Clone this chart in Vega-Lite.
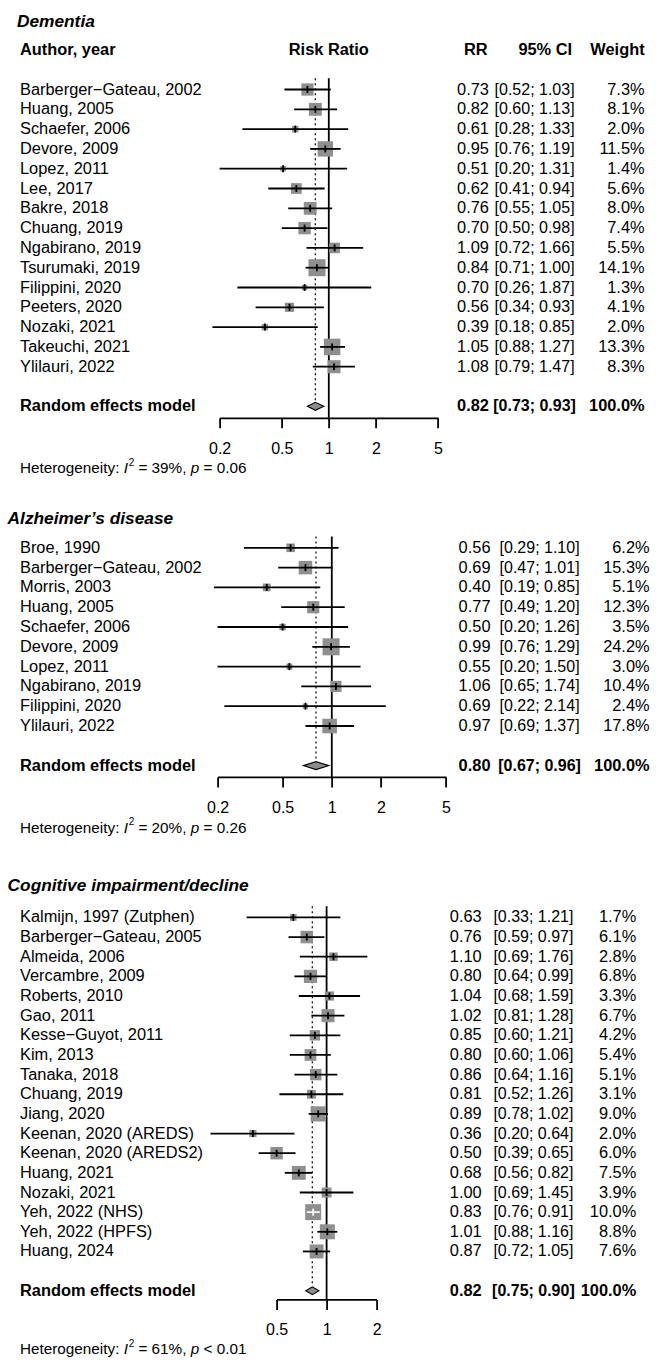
{
"$schema": "https://vega.github.io/schema/vega-lite/v6.json",
"background": "white",
"padding": {"left": 7.6, "top": 10.3, "right": 5, "bottom": 2},
"spacing": 8,
"resolve": {"scale": {"size": "independent"}},
"datasets": {
"D": [
{"row":0,"study":"Barberger−Gateau, 2002","rr":0.73,"lo":0.52,"hi":1.03,"w":0.073,"kind":"study"},
{"row":1,"study":"Huang, 2005","rr":0.82,"lo":0.60,"hi":1.13,"w":0.081,"kind":"study"},
{"row":2,"study":"Schaefer, 2006","rr":0.61,"lo":0.28,"hi":1.33,"w":0.020,"kind":"study"},
{"row":3,"study":"Devore, 2009","rr":0.95,"lo":0.76,"hi":1.19,"w":0.115,"kind":"study"},
{"row":4,"study":"Lopez, 2011","rr":0.51,"lo":0.20,"hi":1.31,"w":0.014,"kind":"study"},
{"row":5,"study":"Lee, 2017","rr":0.62,"lo":0.41,"hi":0.94,"w":0.056,"kind":"study"},
{"row":6,"study":"Bakre, 2018","rr":0.76,"lo":0.55,"hi":1.05,"w":0.080,"kind":"study"},
{"row":7,"study":"Chuang, 2019","rr":0.70,"lo":0.50,"hi":0.98,"w":0.074,"kind":"study"},
{"row":8,"study":"Ngabirano, 2019","rr":1.09,"lo":0.72,"hi":1.66,"w":0.055,"kind":"study"},
{"row":9,"study":"Tsurumaki, 2019","rr":0.84,"lo":0.71,"hi":1.00,"w":0.141,"kind":"study"},
{"row":10,"study":"Filippini, 2020","rr":0.70,"lo":0.26,"hi":1.87,"w":0.013,"kind":"study"},
{"row":11,"study":"Peeters, 2020","rr":0.56,"lo":0.34,"hi":0.93,"w":0.041,"kind":"study"},
{"row":12,"study":"Nozaki, 2021","rr":0.39,"lo":0.18,"hi":0.85,"w":0.020,"kind":"study"},
{"row":13,"study":"Takeuchi, 2021","rr":1.05,"lo":0.88,"hi":1.27,"w":0.133,"kind":"study"},
{"row":14,"study":"Ylilauri, 2022","rr":1.08,"lo":0.79,"hi":1.47,"w":0.083,"kind":"study"},
{"row":16,"study":"Random effects model","rr":0.82,"lo":0.73,"hi":0.93,"w":1.0,"kind":"summary"}
],
"A": [
{"row":0,"study":"Broe, 1990","rr":0.56,"lo":0.29,"hi":1.10,"w":0.062,"kind":"study"},
{"row":1,"study":"Barberger−Gateau, 2002","rr":0.69,"lo":0.47,"hi":1.01,"w":0.153,"kind":"study"},
{"row":2,"study":"Morris, 2003","rr":0.40,"lo":0.19,"hi":0.85,"w":0.051,"kind":"study"},
{"row":3,"study":"Huang, 2005","rr":0.77,"lo":0.49,"hi":1.20,"w":0.123,"kind":"study"},
{"row":4,"study":"Schaefer, 2006","rr":0.50,"lo":0.20,"hi":1.26,"w":0.035,"kind":"study"},
{"row":5,"study":"Devore, 2009","rr":0.99,"lo":0.76,"hi":1.29,"w":0.242,"kind":"study"},
{"row":6,"study":"Lopez, 2011","rr":0.55,"lo":0.20,"hi":1.50,"w":0.030,"kind":"study"},
{"row":7,"study":"Ngabirano, 2019","rr":1.06,"lo":0.65,"hi":1.74,"w":0.104,"kind":"study"},
{"row":8,"study":"Filippini, 2020","rr":0.69,"lo":0.22,"hi":2.14,"w":0.024,"kind":"study"},
{"row":9,"study":"Ylilauri, 2022","rr":0.97,"lo":0.69,"hi":1.37,"w":0.178,"kind":"study"},
{"row":11,"study":"Random effects model","rr":0.80,"lo":0.67,"hi":0.96,"w":1.0,"kind":"summary"}
],
"C": [
{"row":0,"study":"Kalmijn, 1997 (Zutphen)","rr":0.63,"lo":0.33,"hi":1.21,"w":0.017,"kind":"study"},
{"row":1,"study":"Barberger−Gateau, 2005","rr":0.76,"lo":0.59,"hi":0.97,"w":0.061,"kind":"study"},
{"row":2,"study":"Almeida, 2006","rr":1.10,"lo":0.69,"hi":1.76,"w":0.028,"kind":"study"},
{"row":3,"study":"Vercambre, 2009","rr":0.80,"lo":0.64,"hi":0.99,"w":0.068,"kind":"study"},
{"row":4,"study":"Roberts, 2010","rr":1.04,"lo":0.68,"hi":1.59,"w":0.033,"kind":"study"},
{"row":5,"study":"Gao, 2011","rr":1.02,"lo":0.81,"hi":1.28,"w":0.067,"kind":"study"},
{"row":6,"study":"Kesse−Guyot, 2011","rr":0.85,"lo":0.60,"hi":1.21,"w":0.042,"kind":"study"},
{"row":7,"study":"Kim, 2013","rr":0.80,"lo":0.60,"hi":1.06,"w":0.054,"kind":"study"},
{"row":8,"study":"Tanaka, 2018","rr":0.86,"lo":0.64,"hi":1.16,"w":0.051,"kind":"study"},
{"row":9,"study":"Chuang, 2019","rr":0.81,"lo":0.52,"hi":1.26,"w":0.031,"kind":"study"},
{"row":10,"study":"Jiang, 2020","rr":0.89,"lo":0.78,"hi":1.02,"w":0.090,"kind":"study"},
{"row":11,"study":"Keenan, 2020 (AREDS)","rr":0.36,"lo":0.20,"hi":0.64,"w":0.020,"kind":"study"},
{"row":12,"study":"Keenan, 2020 (AREDS2)","rr":0.50,"lo":0.39,"hi":0.65,"w":0.060,"kind":"study"},
{"row":13,"study":"Huang, 2021","rr":0.68,"lo":0.56,"hi":0.82,"w":0.075,"kind":"study"},
{"row":14,"study":"Nozaki, 2021","rr":1.00,"lo":0.69,"hi":1.45,"w":0.039,"kind":"study"},
{"row":15,"study":"Yeh, 2022 (NHS)","rr":0.83,"lo":0.76,"hi":0.91,"w":0.100,"kind":"study"},
{"row":16,"study":"Yeh, 2022 (HPFS)","rr":1.01,"lo":0.88,"hi":1.16,"w":0.088,"kind":"study"},
{"row":17,"study":"Huang, 2024","rr":0.87,"lo":0.72,"hi":1.05,"w":0.076,"kind":"study"},
{"row":19,"study":"Random effects model","rr":0.82,"lo":0.75,"hi":0.90,"w":1.0,"kind":"summary"}
]
},
"vconcat": [
{
"spacing": 0, "bounds": "flush",
"hconcat": [
{
"width": 211.7, "height": 479.2,
"layer": [
{"data": {"name": "D"}, "transform": [{"filter": "datum.kind == 'study'"}],
 "mark": {"type": "text", "align": "left", "dx": 12.4},
 "encoding": {"x": {"datum": 0, "type": "quantitative", "scale": {"domain": [0, 1]}, "axis": null},
  "y": {"field": "row", "type": "quantitative", "scale": {"domain": [-4, 20.2], "reverse": true, "nice": false}, "axis": null},
  "text": {"field": "study", "type": "nominal"}}},
{"data": {"name": "D"}, "transform": [{"filter": "datum.kind == 'summary'"}],
 "mark": {"type": "text", "align": "left", "dx": 12.4, "fontWeight": "bold"},
 "encoding": {"x": {"datum": 0, "type": "quantitative", "scale": {"domain": [0, 1]}, "axis": null},
  "y": {"field": "row", "type": "quantitative", "scale": {"domain": [-4, 20.2], "reverse": true, "nice": false}, "axis": null},
  "text": {"field": "study", "type": "nominal"}}},
{"data": {"values": [{}]},
 "mark": {"type": "text", "align": "left", "dx": 9.4, "fontWeight": "bold", "fontStyle": "italic", "fontSize": 17.3, "text": "Dementia"},
 "encoding": {"x": {"datum": 0, "type": "quantitative", "scale": {"domain": [0, 1]}, "axis": null},
  "y": {"datum": -3.41, "type": "quantitative", "scale": {"domain": [-4, 20.2], "reverse": true, "nice": false}, "axis": null}}},
{"data": {"values": [{}]},
 "mark": {"type": "text", "align": "left", "dx": 12.4, "fontWeight": "bold", "text": "Author, year"},
 "encoding": {"x": {"datum": 0, "type": "quantitative", "scale": {"domain": [0, 1]}, "axis": null},
  "y": {"datum": -2, "type": "quantitative", "scale": {"domain": [-4, 20.2], "reverse": true, "nice": false}, "axis": null}}},
{"data": {"values": [{}]}, "mark": {"type": "text", "align": "left", "dx": 12.4, "fontSize": 15.3, "text": "Heterogeneity:"},
 "encoding": {"x": {"datum": 0, "type": "quantitative", "scale": {"domain": [0, 1]}, "axis": null},
  "y": {"datum": 19.12, "type": "quantitative", "scale": {"domain": [-4, 20.2], "reverse": true, "nice": false}, "axis": null}}},
{"data": {"values": [{}]}, "mark": {"type": "text", "align": "left", "dx": 116.15, "fontSize": 15.3, "fontStyle": "italic", "text": "I"},
 "encoding": {"x": {"datum": 0, "type": "quantitative", "scale": {"domain": [0, 1]}, "axis": null},
  "y": {"datum": 19.12, "type": "quantitative", "scale": {"domain": [-4, 20.2], "reverse": true, "nice": false}, "axis": null}}},
{"data": {"values": [{}]}, "mark": {"type": "text", "align": "left", "dx": 121.2, "dy": -5.5, "fontSize": 10, "text": "2"},
 "encoding": {"x": {"datum": 0, "type": "quantitative", "scale": {"domain": [0, 1]}, "axis": null},
  "y": {"datum": 19.12, "type": "quantitative", "scale": {"domain": [-4, 20.2], "reverse": true, "nice": false}, "axis": null}}},
{"data": {"values": [{}]}, "mark": {"type": "text", "align": "left", "dx": 130.85, "fontSize": 15.3, "text": "= 39%,"},
 "encoding": {"x": {"datum": 0, "type": "quantitative", "scale": {"domain": [0, 1]}, "axis": null},
  "y": {"datum": 19.12, "type": "quantitative", "scale": {"domain": [-4, 20.2], "reverse": true, "nice": false}, "axis": null}}},
{"data": {"values": [{}]}, "mark": {"type": "text", "align": "left", "dx": 183.2, "fontSize": 15.3, "fontStyle": "italic", "text": "p"},
 "encoding": {"x": {"datum": 0, "type": "quantitative", "scale": {"domain": [0, 1]}, "axis": null},
  "y": {"datum": 19.12, "type": "quantitative", "scale": {"domain": [-4, 20.2], "reverse": true, "nice": false}, "axis": null}}},
{"data": {"values": [{}]}, "mark": {"type": "text", "align": "left", "dx": 195.95, "fontSize": 15.3, "text": "= 0.06"},
 "encoding": {"x": {"datum": 0, "type": "quantitative", "scale": {"domain": [0, 1]}, "axis": null},
  "y": {"datum": 19.12, "type": "quantitative", "scale": {"domain": [-4, 20.2], "reverse": true, "nice": false}, "axis": null}}}
]
},
{
"width": 218.4, "height": 407.5,
"layer": [
{"data": {"values": [{}]}, "mark": {"type": "rule", "color": "#000", "strokeWidth": 1.8},
 "encoding": {"x": {"datum": 1, "type": "quantitative", "scale": {"type": "log", "domain": [0.2, 5]}, "axis": {"values": [0.2, 0.5, 1, 2, 5], "format": "~g", "title": null, "labelFontSize": 16}},
  "y": {"datum": -0.57, "type": "quantitative", "scale": {"domain": [-4, 16.58], "reverse": true, "nice": false}, "axis": null},
  "y2": {"datum": 16.58}}},
{"data": {"name": "D"}, "transform": [{"filter": "datum.kind == 'summary'"}],
 "mark": {"type": "rule", "color": "#000", "strokeWidth": 1.2, "strokeDash": [2, 3]},
 "encoding": {"x": {"field": "rr", "type": "quantitative", "scale": {"type": "log", "domain": [0.2, 5]}, "axis": {"values": [0.2, 0.5, 1, 2, 5], "format": "~g", "title": null, "labelFontSize": 16}},
  "y": {"datum": -0.57, "type": "quantitative", "scale": {"domain": [-4, 16.58], "reverse": true, "nice": false}, "axis": null},
  "y2": {"datum": 15.77}}},
{"data": {"name": "D"}, "transform": [{"filter": "datum.kind == 'study'"}],
 "mark": {"type": "square", "filled": true, "color": "#8f8f8f", "opacity": 1},
 "encoding": {"x": {"field": "rr", "type": "quantitative", "scale": {"type": "log", "domain": [0.2, 5]}, "axis": {"values": [0.2, 0.5, 1, 2, 5], "format": "~g", "title": null, "labelFontSize": 16}},
  "y": {"field": "row", "type": "quantitative", "scale": {"domain": [-4, 16.58], "reverse": true, "nice": false}, "axis": null},
  "size": {"field": "w", "type": "quantitative", "scale": {"domain": [0, 0.141], "range": [0, 289]}, "legend": null}}},
{"data": {"name": "D"}, "transform": [{"filter": "datum.kind == 'study'"}],
 "mark": {"type": "rule", "strokeWidth": 1.8},
 "encoding": {"x": {"field": "lo", "type": "quantitative", "scale": {"type": "log", "domain": [0.2, 5]}, "axis": {"values": [0.2, 0.5, 1, 2, 5], "format": "~g", "title": null, "labelFontSize": 16}},
  "x2": {"field": "hi"},
  "y": {"field": "row", "type": "quantitative", "scale": {"domain": [-4, 16.58], "reverse": true, "nice": false}, "axis": null},
  "color": {"condition": {"test": "datum.hi / datum.lo < 1.25", "value": "#ffffff"}, "value": "#000000"}}},
{"data": {"name": "D"}, "transform": [{"filter": "datum.kind == 'study'"}],
 "mark": {"type": "tick", "orient": "vertical", "size": 7, "thickness": 1.8, "opacity": 1},
 "encoding": {"x": {"field": "rr", "type": "quantitative", "scale": {"type": "log", "domain": [0.2, 5]}, "axis": {"values": [0.2, 0.5, 1, 2, 5], "format": "~g", "title": null, "labelFontSize": 16}},
  "y": {"field": "row", "type": "quantitative", "scale": {"domain": [-4, 16.58], "reverse": true, "nice": false}, "axis": null},
  "color": {"condition": {"test": "datum.hi / datum.lo < 1.25", "value": "#ffffff"}, "value": "#000000"}}},
{"data": {"name": "D"},
 "transform": [{"filter": "datum.kind == 'summary'"}, {"fold": ["lo", "rr", "hi"], "as": ["key", "val"]},
  {"calculate": "datum.key == 'rr' ? datum.row - 0.2 : datum.row", "as": "top"},
  {"calculate": "datum.key == 'rr' ? datum.row + 0.2 : datum.row", "as": "bot"}],
 "mark": {"type": "area", "orient": "vertical", "color": "#8c8c8c", "stroke": "#000", "strokeWidth": 1.1, "opacity": 1},
 "encoding": {"x": {"field": "val", "type": "quantitative", "scale": {"type": "log", "domain": [0.2, 5]}, "axis": {"values": [0.2, 0.5, 1, 2, 5], "format": "~g", "title": null, "labelFontSize": 16}},
  "y": {"field": "top", "type": "quantitative", "scale": {"domain": [-4, 16.58], "reverse": true, "nice": false}, "axis": null},
  "y2": {"field": "bot"}}},
{"data": {"values": [{}]},
 "mark": {"type": "text", "fontWeight": "bold", "text": "Risk Ratio"},
 "encoding": {"x": {"datum": 1, "type": "quantitative", "scale": {"type": "log", "domain": [0.2, 5]}, "axis": {"values": [0.2, 0.5, 1, 2, 5], "format": "~g", "title": null, "labelFontSize": 16}},
  "y": {"datum": -2, "type": "quantitative", "scale": {"domain": [-4, 16.58], "reverse": true, "nice": false}, "axis": null}}}
]
},
{
"width": 50.3, "height": 407.5,
"layer": [
{"data": {"name": "D"}, "transform": [{"filter": "datum.kind == 'study'"}],
 "mark": {"type": "text", "align": "right"},
 "encoding": {"x": {"datum": 1, "type": "quantitative", "scale": {"domain": [0, 1]}, "axis": null},
  "y": {"field": "row", "type": "quantitative", "scale": {"domain": [-4, 16.58], "reverse": true, "nice": false}, "axis": null},
  "text": {"field": "rr", "type": "quantitative", "format": ".2f"}}},
{"data": {"name": "D"}, "transform": [{"filter": "datum.kind == 'summary'"}],
 "mark": {"type": "text", "align": "right", "fontWeight": "bold"},
 "encoding": {"x": {"datum": 1, "type": "quantitative", "scale": {"domain": [0, 1]}, "axis": null},
  "y": {"field": "row", "type": "quantitative", "scale": {"domain": [-4, 16.58], "reverse": true, "nice": false}, "axis": null},
  "text": {"field": "rr", "type": "quantitative", "format": ".2f"}}},
{"data": {"values": [{}]},
 "mark": {"type": "text", "align": "right", "fontWeight": "bold", "text": "RR", "dx": -1.3},
 "encoding": {"x": {"datum": 1, "type": "quantitative", "scale": {"domain": [0, 1]}, "axis": null},
  "y": {"datum": -2, "type": "quantitative", "scale": {"domain": [-4, 16.58], "reverse": true, "nice": false}, "axis": null}}}
]
},
{
"width": 90, "height": 407.5,
"layer": [
{"data": {"name": "D"}, "transform": [{"filter": "datum.kind == 'study'"}, {"calculate": "'[' + format(datum.lo, '.2f') + '; ' + format(datum.hi, '.2f') + ']'", "as": "ci"}],
 "mark": {"type": "text", "align": "center", "fontSize": 16},
 "encoding": {"x": {"datum": 0.5, "type": "quantitative", "scale": {"domain": [0, 1]}, "axis": null},
  "y": {"field": "row", "type": "quantitative", "scale": {"domain": [-4, 16.58], "reverse": true, "nice": false}, "axis": null},
  "text": {"field": "ci", "type": "nominal"}}},
{"data": {"name": "D"}, "transform": [{"filter": "datum.kind == 'summary'"}, {"calculate": "'[' + format(datum.lo, '.2f') + '; ' + format(datum.hi, '.2f') + ']'", "as": "ci"}],
 "mark": {"type": "text", "align": "center", "fontWeight": "bold", "fontSize": 16},
 "encoding": {"x": {"datum": 0.5, "type": "quantitative", "scale": {"domain": [0, 1]}, "axis": null},
  "y": {"field": "row", "type": "quantitative", "scale": {"domain": [-4, 16.58], "reverse": true, "nice": false}, "axis": null},
  "text": {"field": "ci", "type": "nominal"}}},
{"data": {"values": [{}]},
 "mark": {"type": "text", "align": "right", "fontWeight": "bold", "text": "95% CI", "dx": -7.5},
 "encoding": {"x": {"datum": 1, "type": "quantitative", "scale": {"domain": [0, 1]}, "axis": null},
  "y": {"datum": -2, "type": "quantitative", "scale": {"domain": [-4, 16.58], "reverse": true, "nice": false}, "axis": null}}}
]
},
{
"width": 65, "height": 407.5,
"layer": [
{"data": {"name": "D"}, "transform": [{"filter": "datum.kind == 'study'"}],
 "mark": {"type": "text", "align": "right"},
 "encoding": {"x": {"datum": 1, "type": "quantitative", "scale": {"domain": [0, 1]}, "axis": null},
  "y": {"field": "row", "type": "quantitative", "scale": {"domain": [-4, 16.58], "reverse": true, "nice": false}, "axis": null},
  "text": {"field": "w", "type": "quantitative", "format": ".1%"}}},
{"data": {"name": "D"}, "transform": [{"filter": "datum.kind == 'summary'"}],
 "mark": {"type": "text", "align": "right", "fontWeight": "bold"},
 "encoding": {"x": {"datum": 1, "type": "quantitative", "scale": {"domain": [0, 1]}, "axis": null},
  "y": {"field": "row", "type": "quantitative", "scale": {"domain": [-4, 16.58], "reverse": true, "nice": false}, "axis": null},
  "text": {"field": "w", "type": "quantitative", "format": ".1%"}}},
{"data": {"values": [{}]},
 "mark": {"type": "text", "align": "right", "fontWeight": "bold", "text": "Weight"},
 "encoding": {"x": {"datum": 1, "type": "quantitative", "scale": {"domain": [0, 1]}, "axis": null},
  "y": {"datum": -2, "type": "quantitative", "scale": {"domain": [-4, 16.58], "reverse": true, "nice": false}, "axis": null}}}
]
}
]
},
{
"spacing": 0, "bounds": "flush",
"hconcat": [
{
"width": 209.4, "height": 361.7,
"layer": [
{"data": {"name": "A"}, "transform": [{"filter": "datum.kind == 'study'"}],
 "mark": {"type": "text", "align": "left", "dx": 12.4},
 "encoding": {"x": {"datum": 0, "type": "quantitative", "scale": {"domain": [0, 1]}, "axis": null},
  "y": {"field": "row", "type": "quantitative", "scale": {"domain": [-2.5, 15.77], "reverse": true, "nice": false}, "axis": null},
  "text": {"field": "study", "type": "nominal"}}},
{"data": {"name": "A"}, "transform": [{"filter": "datum.kind == 'summary'"}],
 "mark": {"type": "text", "align": "left", "dx": 12.4, "fontWeight": "bold"},
 "encoding": {"x": {"datum": 0, "type": "quantitative", "scale": {"domain": [0, 1]}, "axis": null},
  "y": {"field": "row", "type": "quantitative", "scale": {"domain": [-2.5, 15.77], "reverse": true, "nice": false}, "axis": null},
  "text": {"field": "study", "type": "nominal"}}},
{"data": {"values": [{}]},
 "mark": {"type": "text", "align": "left", "dx": 0, "fontWeight": "bold", "fontStyle": "italic", "fontSize": 17.3, "text": "Alzheimer’s disease"},
 "encoding": {"x": {"datum": 0, "type": "quantitative", "scale": {"domain": [0, 1]}, "axis": null},
  "y": {"datum": -1.46, "type": "quantitative", "scale": {"domain": [-2.5, 15.77], "reverse": true, "nice": false}, "axis": null}}},
{"data": {"values": [{}]}, "mark": {"type": "text", "align": "left", "dx": 12.4, "fontSize": 15.3, "text": "Heterogeneity:"},
 "encoding": {"x": {"datum": 0, "type": "quantitative", "scale": {"domain": [0, 1]}, "axis": null},
  "y": {"datum": 14.13, "type": "quantitative", "scale": {"domain": [-2.5, 15.77], "reverse": true, "nice": false}, "axis": null}}},
{"data": {"values": [{}]}, "mark": {"type": "text", "align": "left", "dx": 116.15, "fontSize": 15.3, "fontStyle": "italic", "text": "I"},
 "encoding": {"x": {"datum": 0, "type": "quantitative", "scale": {"domain": [0, 1]}, "axis": null},
  "y": {"datum": 14.13, "type": "quantitative", "scale": {"domain": [-2.5, 15.77], "reverse": true, "nice": false}, "axis": null}}},
{"data": {"values": [{}]}, "mark": {"type": "text", "align": "left", "dx": 121.2, "dy": -5.5, "fontSize": 10, "text": "2"},
 "encoding": {"x": {"datum": 0, "type": "quantitative", "scale": {"domain": [0, 1]}, "axis": null},
  "y": {"datum": 14.13, "type": "quantitative", "scale": {"domain": [-2.5, 15.77], "reverse": true, "nice": false}, "axis": null}}},
{"data": {"values": [{}]}, "mark": {"type": "text", "align": "left", "dx": 130.85, "fontSize": 15.3, "text": "= 20%,"},
 "encoding": {"x": {"datum": 0, "type": "quantitative", "scale": {"domain": [0, 1]}, "axis": null},
  "y": {"datum": 14.13, "type": "quantitative", "scale": {"domain": [-2.5, 15.77], "reverse": true, "nice": false}, "axis": null}}},
{"data": {"values": [{}]}, "mark": {"type": "text", "align": "left", "dx": 183.2, "fontSize": 15.3, "fontStyle": "italic", "text": "p"},
 "encoding": {"x": {"datum": 0, "type": "quantitative", "scale": {"domain": [0, 1]}, "axis": null},
  "y": {"datum": 14.13, "type": "quantitative", "scale": {"domain": [-2.5, 15.77], "reverse": true, "nice": false}, "axis": null}}},
{"data": {"values": [{}]}, "mark": {"type": "text", "align": "left", "dx": 195.95, "fontSize": 15.3, "text": "= 0.26"},
 "encoding": {"x": {"datum": 0, "type": "quantitative", "scale": {"domain": [0, 1]}, "axis": null},
  "y": {"datum": 14.13, "type": "quantitative", "scale": {"domain": [-2.5, 15.77], "reverse": true, "nice": false}, "axis": null}}}
]
},
{
"width": 228.4, "height": 278.6,
"layer": [
{"data": {"values": [{}]}, "mark": {"type": "rule", "color": "#000", "strokeWidth": 1.8},
 "encoding": {"x": {"datum": 1, "type": "quantitative", "scale": {"type": "log", "domain": [0.2, 5]}, "axis": {"values": [0.2, 0.5, 1, 2, 5], "format": "~g", "title": null, "labelFontSize": 16}},
  "y": {"datum": -0.57, "type": "quantitative", "scale": {"domain": [-2.5, 11.57], "reverse": true, "nice": false}, "axis": null},
  "y2": {"datum": 11.57}}},
{"data": {"name": "A"}, "transform": [{"filter": "datum.kind == 'summary'"}],
 "mark": {"type": "rule", "color": "#000", "strokeWidth": 1.2, "strokeDash": [2, 3]},
 "encoding": {"x": {"field": "rr", "type": "quantitative", "scale": {"type": "log", "domain": [0.2, 5]}, "axis": {"values": [0.2, 0.5, 1, 2, 5], "format": "~g", "title": null, "labelFontSize": 16}},
  "y": {"datum": -0.57, "type": "quantitative", "scale": {"domain": [-2.5, 11.57], "reverse": true, "nice": false}, "axis": null},
  "y2": {"datum": 10.77}}},
{"data": {"name": "A"}, "transform": [{"filter": "datum.kind == 'study'"}],
 "mark": {"type": "square", "filled": true, "color": "#8f8f8f", "opacity": 1},
 "encoding": {"x": {"field": "rr", "type": "quantitative", "scale": {"type": "log", "domain": [0.2, 5]}, "axis": {"values": [0.2, 0.5, 1, 2, 5], "format": "~g", "title": null, "labelFontSize": 16}},
  "y": {"field": "row", "type": "quantitative", "scale": {"domain": [-2.5, 11.57], "reverse": true, "nice": false}, "axis": null},
  "size": {"field": "w", "type": "quantitative", "scale": {"domain": [0, 0.242], "range": [0, 289]}, "legend": null}}},
{"data": {"name": "A"}, "transform": [{"filter": "datum.kind == 'study'"}],
 "mark": {"type": "rule", "strokeWidth": 1.8},
 "encoding": {"x": {"field": "lo", "type": "quantitative", "scale": {"type": "log", "domain": [0.2, 5]}, "axis": {"values": [0.2, 0.5, 1, 2, 5], "format": "~g", "title": null, "labelFontSize": 16}},
  "x2": {"field": "hi"},
  "y": {"field": "row", "type": "quantitative", "scale": {"domain": [-2.5, 11.57], "reverse": true, "nice": false}, "axis": null},
  "color": {"condition": {"test": "datum.hi / datum.lo < 1.25", "value": "#ffffff"}, "value": "#000000"}}},
{"data": {"name": "A"}, "transform": [{"filter": "datum.kind == 'study'"}],
 "mark": {"type": "tick", "orient": "vertical", "size": 7, "thickness": 1.8, "opacity": 1},
 "encoding": {"x": {"field": "rr", "type": "quantitative", "scale": {"type": "log", "domain": [0.2, 5]}, "axis": {"values": [0.2, 0.5, 1, 2, 5], "format": "~g", "title": null, "labelFontSize": 16}},
  "y": {"field": "row", "type": "quantitative", "scale": {"domain": [-2.5, 11.57], "reverse": true, "nice": false}, "axis": null},
  "color": {"condition": {"test": "datum.hi / datum.lo < 1.25", "value": "#ffffff"}, "value": "#000000"}}},
{"data": {"name": "A"},
 "transform": [{"filter": "datum.kind == 'summary'"}, {"fold": ["lo", "rr", "hi"], "as": ["key", "val"]},
  {"calculate": "datum.key == 'rr' ? datum.row - 0.2 : datum.row", "as": "top"},
  {"calculate": "datum.key == 'rr' ? datum.row + 0.2 : datum.row", "as": "bot"}],
 "mark": {"type": "area", "orient": "vertical", "color": "#8c8c8c", "stroke": "#000", "strokeWidth": 1.1, "opacity": 1},
 "encoding": {"x": {"field": "val", "type": "quantitative", "scale": {"type": "log", "domain": [0.2, 5]}, "axis": {"values": [0.2, 0.5, 1, 2, 5], "format": "~g", "title": null, "labelFontSize": 16}},
  "y": {"field": "top", "type": "quantitative", "scale": {"domain": [-2.5, 11.57], "reverse": true, "nice": false}, "axis": null},
  "y2": {"field": "bot"}}}
]
},
{
"width": 43.9, "height": 278.6,
"layer": [
{"data": {"name": "A"}, "transform": [{"filter": "datum.kind == 'study'"}],
 "mark": {"type": "text", "align": "right"},
 "encoding": {"x": {"datum": 1, "type": "quantitative", "scale": {"domain": [0, 1]}, "axis": null},
  "y": {"field": "row", "type": "quantitative", "scale": {"domain": [-2.5, 11.57], "reverse": true, "nice": false}, "axis": null},
  "text": {"field": "rr", "type": "quantitative", "format": ".2f"}}},
{"data": {"name": "A"}, "transform": [{"filter": "datum.kind == 'summary'"}],
 "mark": {"type": "text", "align": "right", "fontWeight": "bold"},
 "encoding": {"x": {"datum": 1, "type": "quantitative", "scale": {"domain": [0, 1]}, "axis": null},
  "y": {"field": "row", "type": "quantitative", "scale": {"domain": [-2.5, 11.57], "reverse": true, "nice": false}, "axis": null},
  "text": {"field": "rr", "type": "quantitative", "format": ".2f"}}}
]
},
{
"width": 98, "height": 278.6,
"layer": [
{"data": {"name": "A"}, "transform": [{"filter": "datum.kind == 'study'"}, {"calculate": "'[' + format(datum.lo, '.2f') + '; ' + format(datum.hi, '.2f') + ']'", "as": "ci"}],
 "mark": {"type": "text", "align": "center", "fontSize": 16},
 "encoding": {"x": {"datum": 0.5, "type": "quantitative", "scale": {"domain": [0, 1]}, "axis": null},
  "y": {"field": "row", "type": "quantitative", "scale": {"domain": [-2.5, 11.57], "reverse": true, "nice": false}, "axis": null},
  "text": {"field": "ci", "type": "nominal"}}},
{"data": {"name": "A"}, "transform": [{"filter": "datum.kind == 'summary'"}, {"calculate": "'[' + format(datum.lo, '.2f') + '; ' + format(datum.hi, '.2f') + ']'", "as": "ci"}],
 "mark": {"type": "text", "align": "center", "fontWeight": "bold", "fontSize": 16},
 "encoding": {"x": {"datum": 0.5, "type": "quantitative", "scale": {"domain": [0, 1]}, "axis": null},
  "y": {"field": "row", "type": "quantitative", "scale": {"domain": [-2.5, 11.57], "reverse": true, "nice": false}, "axis": null},
  "text": {"field": "ci", "type": "nominal"}}}
]
},
{
"width": 61, "height": 278.6,
"layer": [
{"data": {"name": "A"}, "transform": [{"filter": "datum.kind == 'study'"}],
 "mark": {"type": "text", "align": "right"},
 "encoding": {"x": {"datum": 1, "type": "quantitative", "scale": {"domain": [0, 1]}, "axis": null},
  "y": {"field": "row", "type": "quantitative", "scale": {"domain": [-2.5, 11.57], "reverse": true, "nice": false}, "axis": null},
  "text": {"field": "w", "type": "quantitative", "format": ".1%"}}},
{"data": {"name": "A"}, "transform": [{"filter": "datum.kind == 'summary'"}],
 "mark": {"type": "text", "align": "right", "fontWeight": "bold"},
 "encoding": {"x": {"datum": 1, "type": "quantitative", "scale": {"domain": [0, 1]}, "axis": null},
  "y": {"field": "row", "type": "quantitative", "scale": {"domain": [-2.5, 11.57], "reverse": true, "nice": false}, "axis": null},
  "text": {"field": "w", "type": "quantitative", "format": ".1%"}}}
]
}
]
},
{
"spacing": 0, "bounds": "flush",
"hconcat": [
{
"width": 269, "height": 493.2,
"layer": [
{"data": {"name": "C"}, "transform": [{"filter": "datum.kind == 'study'"}],
 "mark": {"type": "text", "align": "left", "dx": 12.4},
 "encoding": {"x": {"datum": 0, "type": "quantitative", "scale": {"domain": [0, 1]}, "axis": null},
  "y": {"field": "row", "type": "quantitative", "scale": {"domain": [-2.5, 22.6], "reverse": true, "nice": false}, "axis": null},
  "text": {"field": "study", "type": "nominal"}}},
{"data": {"name": "C"}, "transform": [{"filter": "datum.kind == 'summary'"}],
 "mark": {"type": "text", "align": "left", "dx": 12.4, "fontWeight": "bold"},
 "encoding": {"x": {"datum": 0, "type": "quantitative", "scale": {"domain": [0, 1]}, "axis": null},
  "y": {"field": "row", "type": "quantitative", "scale": {"domain": [-2.5, 22.6], "reverse": true, "nice": false}, "axis": null},
  "text": {"field": "study", "type": "nominal"}}},
{"data": {"values": [{}]},
 "mark": {"type": "text", "align": "left", "dx": 0, "fontWeight": "bold", "fontStyle": "italic", "fontSize": 17.3, "text": "Cognitive impairment/decline"},
 "encoding": {"x": {"datum": 0, "type": "quantitative", "scale": {"domain": [0, 1]}, "axis": null},
  "y": {"datum": -1.59, "type": "quantitative", "scale": {"domain": [-2.5, 22.6], "reverse": true, "nice": false}, "axis": null}}},
{"data": {"values": [{}]}, "mark": {"type": "text", "align": "left", "dx": 12.4, "fontSize": 15.3, "text": "Heterogeneity:"},
 "encoding": {"x": {"datum": 0, "type": "quantitative", "scale": {"domain": [0, 1]}, "axis": null},
  "y": {"datum": 21.98, "type": "quantitative", "scale": {"domain": [-2.5, 22.6], "reverse": true, "nice": false}, "axis": null}}},
{"data": {"values": [{}]}, "mark": {"type": "text", "align": "left", "dx": 116.15, "fontSize": 15.3, "fontStyle": "italic", "text": "I"},
 "encoding": {"x": {"datum": 0, "type": "quantitative", "scale": {"domain": [0, 1]}, "axis": null},
  "y": {"datum": 21.98, "type": "quantitative", "scale": {"domain": [-2.5, 22.6], "reverse": true, "nice": false}, "axis": null}}},
{"data": {"values": [{}]}, "mark": {"type": "text", "align": "left", "dx": 121.2, "dy": -5.5, "fontSize": 10, "text": "2"},
 "encoding": {"x": {"datum": 0, "type": "quantitative", "scale": {"domain": [0, 1]}, "axis": null},
  "y": {"datum": 21.98, "type": "quantitative", "scale": {"domain": [-2.5, 22.6], "reverse": true, "nice": false}, "axis": null}}},
{"data": {"values": [{}]}, "mark": {"type": "text", "align": "left", "dx": 130.85, "fontSize": 15.3, "text": "= 61%,"},
 "encoding": {"x": {"datum": 0, "type": "quantitative", "scale": {"domain": [0, 1]}, "axis": null},
  "y": {"datum": 21.98, "type": "quantitative", "scale": {"domain": [-2.5, 22.6], "reverse": true, "nice": false}, "axis": null}}},
{"data": {"values": [{}]}, "mark": {"type": "text", "align": "left", "dx": 183.2, "fontSize": 15.3, "fontStyle": "italic", "text": "p"},
 "encoding": {"x": {"datum": 0, "type": "quantitative", "scale": {"domain": [0, 1]}, "axis": null},
  "y": {"datum": 21.98, "type": "quantitative", "scale": {"domain": [-2.5, 22.6], "reverse": true, "nice": false}, "axis": null}}},
{"data": {"values": [{}]}, "mark": {"type": "text", "align": "left", "dx": 195.95, "fontSize": 15.3, "text": "< 0.01"},
 "encoding": {"x": {"datum": 0, "type": "quantitative", "scale": {"domain": [0, 1]}, "axis": null},
  "y": {"datum": 21.98, "type": "quantitative", "scale": {"domain": [-2.5, 22.6], "reverse": true, "nice": false}, "axis": null}}}
]
},
{
"width": 100, "height": 431.1,
"layer": [
{"data": {"values": [{}]}, "mark": {"type": "rule", "color": "#000", "strokeWidth": 1.8},
 "encoding": {"x": {"datum": 1, "type": "quantitative", "scale": {"type": "log", "domain": [0.5, 2]}, "axis": {"values": [0.5, 1, 2], "format": "~g", "title": null, "labelFontSize": 16}},
  "y": {"datum": -0.57, "type": "quantitative", "scale": {"domain": [-2.5, 19.44], "reverse": true, "nice": false}, "axis": null},
  "y2": {"datum": 19.44}}},
{"data": {"name": "C"}, "transform": [{"filter": "datum.kind == 'summary'"}],
 "mark": {"type": "rule", "color": "#000", "strokeWidth": 1.2, "strokeDash": [2, 3]},
 "encoding": {"x": {"field": "rr", "type": "quantitative", "scale": {"type": "log", "domain": [0.5, 2]}, "axis": {"values": [0.5, 1, 2], "format": "~g", "title": null, "labelFontSize": 16}},
  "y": {"datum": -0.57, "type": "quantitative", "scale": {"domain": [-2.5, 19.44], "reverse": true, "nice": false}, "axis": null},
  "y2": {"datum": 18.77}}},
{"data": {"name": "C"}, "transform": [{"filter": "datum.kind == 'study'"}],
 "mark": {"type": "square", "filled": true, "color": "#8f8f8f", "opacity": 1},
 "encoding": {"x": {"field": "rr", "type": "quantitative", "scale": {"type": "log", "domain": [0.5, 2]}, "axis": {"values": [0.5, 1, 2], "format": "~g", "title": null, "labelFontSize": 16}},
  "y": {"field": "row", "type": "quantitative", "scale": {"domain": [-2.5, 19.44], "reverse": true, "nice": false}, "axis": null},
  "size": {"field": "w", "type": "quantitative", "scale": {"domain": [0, 0.1], "range": [0, 256]}, "legend": null}}},
{"data": {"name": "C"}, "transform": [{"filter": "datum.kind == 'study'"}],
 "mark": {"type": "rule", "strokeWidth": 1.8},
 "encoding": {"x": {"field": "lo", "type": "quantitative", "scale": {"type": "log", "domain": [0.5, 2]}, "axis": {"values": [0.5, 1, 2], "format": "~g", "title": null, "labelFontSize": 16}},
  "x2": {"field": "hi"},
  "y": {"field": "row", "type": "quantitative", "scale": {"domain": [-2.5, 19.44], "reverse": true, "nice": false}, "axis": null},
  "color": {"condition": {"test": "datum.hi / datum.lo < 1.25", "value": "#ffffff"}, "value": "#000000"}}},
{"data": {"name": "C"}, "transform": [{"filter": "datum.kind == 'study'"}],
 "mark": {"type": "tick", "orient": "vertical", "size": 7, "thickness": 1.8, "opacity": 1},
 "encoding": {"x": {"field": "rr", "type": "quantitative", "scale": {"type": "log", "domain": [0.5, 2]}, "axis": {"values": [0.5, 1, 2], "format": "~g", "title": null, "labelFontSize": 16}},
  "y": {"field": "row", "type": "quantitative", "scale": {"domain": [-2.5, 19.44], "reverse": true, "nice": false}, "axis": null},
  "color": {"condition": {"test": "datum.hi / datum.lo < 1.25", "value": "#ffffff"}, "value": "#000000"}}},
{"data": {"name": "C"},
 "transform": [{"filter": "datum.kind == 'summary'"}, {"fold": ["lo", "rr", "hi"], "as": ["key", "val"]},
  {"calculate": "datum.key == 'rr' ? datum.row - 0.2 : datum.row", "as": "top"},
  {"calculate": "datum.key == 'rr' ? datum.row + 0.2 : datum.row", "as": "bot"}],
 "mark": {"type": "area", "orient": "vertical", "color": "#8c8c8c", "stroke": "#000", "strokeWidth": 1.1, "opacity": 1},
 "encoding": {"x": {"field": "val", "type": "quantitative", "scale": {"type": "log", "domain": [0.5, 2]}, "axis": {"values": [0.5, 1, 2], "format": "~g", "title": null, "labelFontSize": 16}},
  "y": {"field": "top", "type": "quantitative", "scale": {"domain": [-2.5, 19.44], "reverse": true, "nice": false}, "axis": null},
  "y2": {"field": "bot"}}}
]
},
{
"width": 105.1, "height": 431.1,
"layer": [
{"data": {"name": "C"}, "transform": [{"filter": "datum.kind == 'study'"}],
 "mark": {"type": "text", "align": "right"},
 "encoding": {"x": {"datum": 1, "type": "quantitative", "scale": {"domain": [0, 1]}, "axis": null},
  "y": {"field": "row", "type": "quantitative", "scale": {"domain": [-2.5, 19.44], "reverse": true, "nice": false}, "axis": null},
  "text": {"field": "rr", "type": "quantitative", "format": ".2f"}}},
{"data": {"name": "C"}, "transform": [{"filter": "datum.kind == 'summary'"}],
 "mark": {"type": "text", "align": "right", "fontWeight": "bold"},
 "encoding": {"x": {"datum": 1, "type": "quantitative", "scale": {"domain": [0, 1]}, "axis": null},
  "y": {"field": "row", "type": "quantitative", "scale": {"domain": [-2.5, 19.44], "reverse": true, "nice": false}, "axis": null},
  "text": {"field": "rr", "type": "quantitative", "format": ".2f"}}}
]
},
{
"width": 101.6, "height": 431.1,
"layer": [
{"data": {"name": "C"}, "transform": [{"filter": "datum.kind == 'study'"}, {"calculate": "'[' + format(datum.lo, '.2f') + '; ' + format(datum.hi, '.2f') + ']'", "as": "ci"}],
 "mark": {"type": "text", "align": "center", "fontSize": 16},
 "encoding": {"x": {"datum": 0.5, "type": "quantitative", "scale": {"domain": [0, 1]}, "axis": null},
  "y": {"field": "row", "type": "quantitative", "scale": {"domain": [-2.5, 19.44], "reverse": true, "nice": false}, "axis": null},
  "text": {"field": "ci", "type": "nominal"}}},
{"data": {"name": "C"}, "transform": [{"filter": "datum.kind == 'summary'"}, {"calculate": "'[' + format(datum.lo, '.2f') + '; ' + format(datum.hi, '.2f') + ']'", "as": "ci"}],
 "mark": {"type": "text", "align": "center", "fontWeight": "bold", "fontSize": 16},
 "encoding": {"x": {"datum": 0.5, "type": "quantitative", "scale": {"domain": [0, 1]}, "axis": null},
  "y": {"field": "row", "type": "quantitative", "scale": {"domain": [-2.5, 19.44], "reverse": true, "nice": false}, "axis": null},
  "text": {"field": "ci", "type": "nominal"}}}
]
},
{
"width": 51.7, "height": 431.1,
"layer": [
{"data": {"name": "C"}, "transform": [{"filter": "datum.kind == 'study'"}],
 "mark": {"type": "text", "align": "right"},
 "encoding": {"x": {"datum": 1, "type": "quantitative", "scale": {"domain": [0, 1]}, "axis": null},
  "y": {"field": "row", "type": "quantitative", "scale": {"domain": [-2.5, 19.44], "reverse": true, "nice": false}, "axis": null},
  "text": {"field": "w", "type": "quantitative", "format": ".1%"}}},
{"data": {"name": "C"}, "transform": [{"filter": "datum.kind == 'summary'"}],
 "mark": {"type": "text", "align": "right", "fontWeight": "bold"},
 "encoding": {"x": {"datum": 1, "type": "quantitative", "scale": {"domain": [0, 1]}, "axis": null},
  "y": {"field": "row", "type": "quantitative", "scale": {"domain": [-2.5, 19.44], "reverse": true, "nice": false}, "axis": null},
  "text": {"field": "w", "type": "quantitative", "format": ".1%"}}}
]
}
]
}
],
"config": {
"view": {"stroke": null},
"font": "Liberation Sans",
"text": {"fontSize": 16.4, "color": "#000", "baseline": "middle"},
"axis": {"domainColor": "#000", "domainWidth": 1.8, "tickColor": "#000", "tickWidth": 1.8, "tickSize": 10, "labelFontSize": 16, "labelColor": "#000", "labelPadding": 12.5, "grid": false, "labelFont": "Liberation Sans", "labelFlush": false, "labelOverlap": false}
}
}
